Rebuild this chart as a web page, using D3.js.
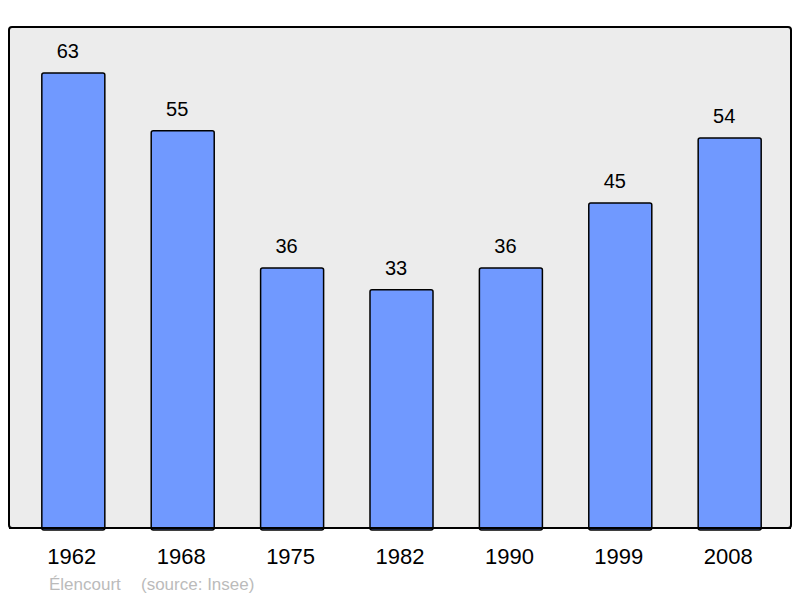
<!DOCTYPE html>
<html><head><meta charset="utf-8">
<script src="https://cdn.jsdelivr.net/npm/d3@7"></script>
<style>body{margin:0;background:#fff}svg{display:block}</style>
</head><body>
<svg id="c" width="800" height="598"></svg>
<script>
const years = ["1962","1968","1975","1982","1990","1999","2008"];
const population = [63,55,36,33,36,45,54];
const title = "Élencourt";
const source = "(source: Insee)";

const svg = d3.select("#c");
const font = "'Liberation Sans', Arial, sans-serif";
const pLeft = 9, pRight = 791, pTop = 27, pBottom = 528;

svg.append("rect").attr("x", pLeft).attr("y", pTop).attr("width", pRight-pLeft).attr("height", pBottom-pTop)
  .attr("rx", 3).attr("fill", "#ececec").attr("stroke", "#000").attr("stroke-width", 2);

const x = d3.scaleBand().domain(years).range([9, 794]).paddingInner(0.424).paddingOuter(0.3);
const y = d3.scaleLinear().domain([0, 70]).range([pBottom, pBottom - 70*7.222]);

const data = years.map((yr,i)=>({yr, v: population[i]}));

svg.selectAll("rect.bar").data(data).join("rect").attr("class","bar")
  .attr("x", d=>x(d.yr)).attr("y", d=>y(d.v))
  .attr("width", x.bandwidth()).attr("height", d=>y(0)-y(d.v)+2)
  .attr("rx", 2).attr("fill", "#7099ff").attr("stroke", "#000").attr("stroke-width", 1.5);

svg.append("line").attr("x1", pLeft).attr("x2", pRight).attr("y1", pBottom).attr("y2", pBottom)
  .attr("stroke", "#000").attr("stroke-width", 2);

svg.selectAll("text.val").data(data).join("text").attr("class","val")
  .attr("x", d=>x(d.yr)+x.bandwidth()/2 - 5.5).attr("y", d=>y(d.v)-15)
  .attr("text-anchor","middle").attr("font-family", font).attr("font-size", 20).attr("fill","#000")
  .text(d=>d.v);

const xAxis = svg.append("g").attr("transform", `translate(-1.5,${pBottom})`)
  .call(d3.axisBottom(x).tickSize(0).tickPadding(20));
xAxis.select(".domain").remove();
xAxis.selectAll("text").attr("font-family", font).attr("font-size", 22).attr("fill","#000").attr("dy","0.71em");

svg.append("text").attr("x", 49).attr("y", 590).attr("font-family", font).attr("font-size", 17)
  .attr("fill", "#bbbbbb").text(title);
svg.append("text").attr("x", 141).attr("y", 590).attr("font-family", font).attr("font-size", 17)
  .attr("fill", "#bbbbbb").text(source);
</script>
</body></html>
